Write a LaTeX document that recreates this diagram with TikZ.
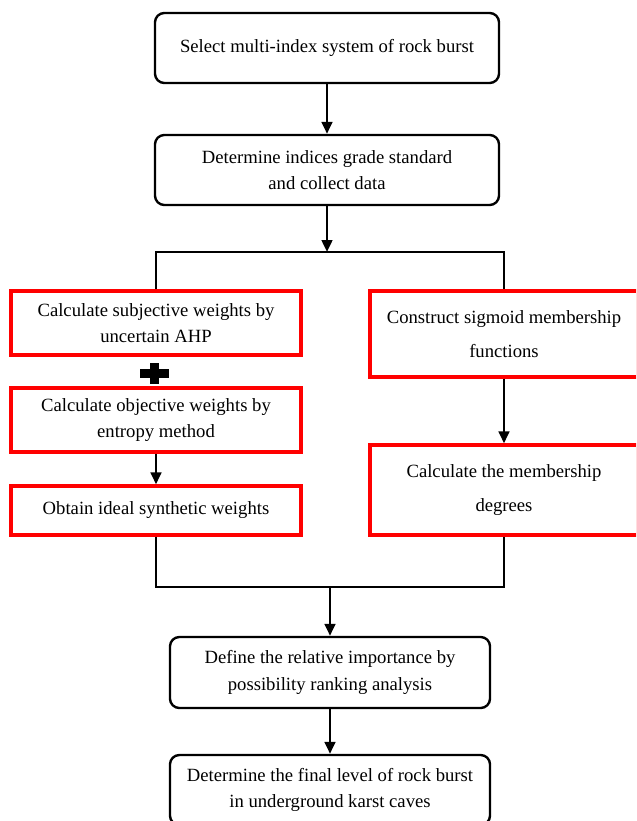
\documentclass[tikz,border=0pt]{standalone}
\usepackage{fontspec}
\setmainfont{Liberation Serif}
\usetikzlibrary{arrows.meta,positioning}

\begin{document}
\begin{tikzpicture}[x=0.75pt,y=-0.75pt,
    >={Triangle[length=9pt,width=8pt]},
    link/.style={line width=1.9pt},
    txt/.style={align=center,inner sep=0pt,font=\fontsize{14pt}{20pt}\selectfont},
    roundbox/.style={txt,draw=black,rounded corners=7pt,line width=1.8pt},
    redbox/.style={txt,draw=red,line width=2.5pt}]
    \useasboundingbox (0,0) rectangle (636,821);
    \clip (0,0) rectangle (636,821);
    \node[roundbox, minimum width=258pt, minimum height=52.5pt] at (327, 48) (sel) {Select multi-index system of rock burst};
    \node[roundbox, minimum width=258pt, minimum height=52.5pt] at (327, 170) (det) {Determine indices grade standard\\and collect data};
    \node[redbox, minimum width=217.5pt, minimum height=48pt] at (156, 323) (subj) {Calculate subjective weights by\\uncertain AHP};
    \node[redbox, minimum width=217.5pt, minimum height=48pt] at (156, 420) (obj) {Calculate objective weights by\\entropy method};
    \node[redbox, minimum width=217.5pt, minimum height=36.75pt] at (156, 510.5) (ideal) {Obtain ideal synthetic weights};
    \node[redbox, minimum width=201pt, minimum height=64.5pt,
        font=\fontsize{14pt}{25pt}\selectfont] at (504, 334) (sig) {Construct sigmoid membership\\functions};
    \node[redbox, minimum width=201pt, minimum height=67.5pt,
        font=\fontsize{14pt}{25pt}\selectfont] at (504, 490) (mem) {Calculate the membership\\degrees};
    \node[roundbox, minimum width=240pt, minimum height=53.25pt] at (330, 672.5) (rel) {Define the relative importance by\\possibility ranking analysis};
    \node[roundbox, minimum width=240pt, minimum height=52.5pt] at (330, 790) (fin) {Determine the final level of rock burst\\in underground karst caves};
    \coordinate (spl) at (156, 252);
    \coordinate (spr) at (504, 252);
    \coordinate (mgl) at (156, 587);
    \coordinate (mgr) at (504, 587);
    % plus sign between the two weight boxes
    \fill (139.5, 368.5) rectangle (168.5, 377.5);
    \fill (149.5, 362.5) rectangle (158.5, 383.5);
    \draw[link, ->] (sel) -- (det);
    \draw[link, ->] (det) -- (det.south |- spl);
    \draw[link] (subj.north) -- (spl) -- (spr) -- (sig.north);
    \draw[link, ->] (obj) -- (ideal);
    \draw[link, ->] (sig) -- (mem);
    \draw[link] (ideal.south) -- (mgl) -- (mgr) -- (mem.south);
    \draw[link, ->] (rel.north |- mgl) -- (rel);
    \draw[link, ->] (rel) -- (fin);
\end{tikzpicture}
\end{document}
